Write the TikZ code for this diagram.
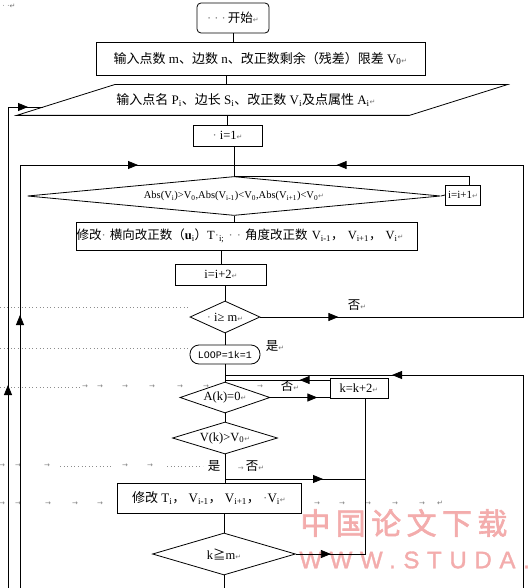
\documentclass[tikz,border=0pt]{standalone}
\usepackage{fontspec}
\setmainfont{Liberation Serif}
\newfontfamily\cjk{Noto Sans CJK SC}
\newfontfamily\cjkwm{Noto Sans CJK SC}[LetterSpace=18,FakeBold=2]
\newfontfamily\wmfont{Liberation Sans}[LetterSpace=32,FakeBold=1.5]
\newfontfamily\dv{DejaVu Sans}
\newfontfamily\mono{Liberation Mono}
\usetikzlibrary{shapes.geometric,arrows.meta,decorations.markings}
\definecolor{wmcol}{RGB}{243,172,172}
\newcommand\zh[1]{{\cjk #1}}
\newcommand\rmk{{\dv\fontsize{7}{7}\selectfont\color{black!55}↵}}
\newcommand\gd[1]{\textcolor{black!55}{#1}}
\newcommand\sbs[1]{\textsubscript{#1}}
\begin{document}
\begin{tikzpicture}[x=1pt,y=-1pt,line width=0.8pt,
  font=\fontsize{12.5}{14}\selectfont,
  box/.style={draw,rectangle,inner sep=1pt,align=center},
  dia/.style={draw,diamond,inner sep=0pt},
  lbl/.style={inner sep=0pt},
  tabm/.style={inner sep=0pt,font=\dv\fontsize{7}{7}\selectfont,text=black!50},
  ah/.style={postaction={decorate,decoration={markings,mark=at position #1 with {\arrow{Triangle[length=10pt,width=8pt]}}}}},
  guide/.style={black!45,line width=0.6pt,dash pattern=on 0.6pt off 3pt}]
\useasboundingbox (0,0) rectangle (530,588);
\clip (0,0) rectangle (530,588);
% watermark
\node[anchor=west,text=wmcol,inner sep=0pt] (wm1) at (300,523) {\cjkwm\fontsize{30}{30}\selectfont 中国论文下载};
\node[anchor=west,text=wmcol,inner sep=0pt] (wm2) at (299,560) {\wmfont\fontsize{24}{24}\selectfont WWW.STUDA.};
% formatting marks
\node[lbl,font=\fontsize{8}{8}\selectfont] (tl) at (9,6) {\gd{· ·}\rmk};
\draw[guide] (0,307) -- (190,307);
\draw[guide] (0,348) -- (190,348);
\draw[guide] (0,387) -- (80,387);
\draw[guide] (60,466) -- (113,466);
\draw[guide] (167,466) -- (203,466);
\foreach \x in {85,100,125,152,180,206,260} \node[tabm] (ta\x) at (\x,387) {→};
\foreach \x in {2,18,47,125,150} \node[tabm] (tb\x) at (\x,466) {→};
\foreach \x in {2,18,48,75,100,317,342,368,395,422} \node[tabm] (tc\x) at (\x,504) {→};
\node[lbl] (tcr) at (440,503) {\rmk};
% nodes
\node[box,rounded corners=4pt,minimum width=72pt,minimum height=30pt] (start) at (233,18) {\gd{· · ·}\,\zh{开始}\rmk};
\node[box,minimum width=329pt,minimum height=33pt,font=\fontsize{13}{15}\selectfont] (in1) at (260.5,58.5) {\zh{输入点数} m\zh{、边数} n\zh{、改正数剩余（残差）限差} V\sbs{0}\rmk};
\node[rectangle,inner sep=0pt,minimum width=392pt,minimum height=30pt] (in2) at (262,100) {};
\node[lbl,font=\fontsize{13}{15}\selectfont] (in2t) at (246,100) {\zh{输入点名} P\sbs{i}\zh{、边长} S\sbs{i}\zh{、改正数} V\sbs{i}\zh{及点属性} A\sbs{i}\rmk};
\draw ([xshift=49pt]in2.north west) -- ([xshift=49pt]in2.north east) -- ([xshift=-49pt]in2.south east) -- ([xshift=-49pt]in2.south west) -- cycle;
\node[box,minimum width=69pt,minimum height=21pt] (i1) at (227.5,135.5) {\gd{·} i=1\rmk};
\node[dia,shape aspect=10,minimum width=413pt,minimum height=39pt] (d1) at (234,196) {\fontsize{10.5}{12}\selectfont Abs(V\sbs{i})>V\sbs{0},Abs(V\sbs{i-1})<V\sbs{0},Abs(V\sbs{i+1})<V\sbs{0}\rmk};
\node[box,inner sep=0pt,minimum width=35pt,minimum height=20pt,font=\fontsize{11}{12}\selectfont] (iplus1) at (463,195) {i=i+1\rmk};
\node[box,inner sep=0.5pt,text width=340pt,align=left,minimum height=28pt,font=\fontsize{12.5}{14}\selectfont] (mod1) at (246.5,236) {\zh{修改}\gd{·} \zh{横向改正数（}{\bfseries u}\sbs{i}\zh{）}T\gd{·}\sbs{i;} \gd{· ·} \zh{角度改正数} V\sbs{i-1}\zh{，} V\sbs{i+1}\zh{，} V\sbs{i}\rmk};
\node[box,minimum width=91pt,minimum height=21pt] (i2) at (221,274.5) {i=i+2\rmk};
\node[dia,shape aspect=2,minimum width=70pt,minimum height=32pt] (d2) at (225,317) {\gd{·} i≥ m\rmk};
\node[box,rounded corners=9pt,minimum width=70pt,minimum height=19pt] (loop) at (225,354.5) {\mono\fontsize{10}{12}\selectfont LOOP=1k=1};
\node[dia,shape aspect=3,minimum width=90pt,minimum height=31pt] (d3) at (225,397.5) {A(k)=0\rmk};
\node[box,minimum width=58pt,minimum height=20pt] (kk2) at (359,388.5) {k=k+2\rmk};
\node[dia,shape aspect=3,minimum width=105pt,minimum height=32pt] (d4) at (225,438) {V(k)>V\sbs{0}\rmk};
\node[box,minimum width=184pt,minimum height=30pt,font=\fontsize{13}{15}\selectfont] (mod2) at (209,498) {\zh{修改} T\sbs{i}\zh{，} V\sbs{i-1}\zh{，} V\sbs{i+1}\zh{，} \gd{·}V\sbs{i}\rmk};
\node[dia,shape aspect=3,minimum width=143pt,minimum height=42pt] (d5) at (224,554) {k\zh{≧}m\rmk};
% labels
\node[lbl] (no1) at (357,305) {\zh{否}\rmk};
\node[lbl] (yes1) at (275,346) {\zh{是}\rmk};
\node[lbl] (no2) at (290,386) {\zh{否}\rmk};
\node[lbl] (yes2) at (214,466) {\zh{是}};
\node[lbl] (no3) at (251,466) {{\dv\fontsize{7}{7}\selectfont\color{black!50}→}\,\zh{否}\rmk};
% coordinates
\coordinate (j1) at (234,165);
\coordinate (rc) at (523,165);
\coordinate (j2) at (225,375);
\coordinate (brr) at (523,588);
\coordinate (j3) at (225,479);
\coordinate (kkb) at ([xshift=6pt]kk2.south);
\coordinate (bl1) at (20,588);
\coordinate (bl2) at (8,588);
\coordinate (in2l) at (43,107);
\coordinate (bot) at (224,588);
% connectors
\draw (start.south) -- (start.south |- in1.north);
\draw ([xshift=-34.5pt]in1.south) -- ([xshift=-34.5pt]in1.south |- in2.north);
\draw (i1.north |- in2.south) -- (i1.north);
\draw (d1.north |- i1.south) -- (d1.north);
\draw ([xshift=6pt]iplus1.north) |- (d1.north);
\draw (d1.east) -- (iplus1.west);
\draw (d1.south) -- (d1.south |- mod1.north);
\draw (i2.north |- mod1.south) -- (i2.north);
\draw (d2.north |- i2.south) -- (d2.north);
\draw (d2.south) -- (loop.north);
\draw (loop.south) -- (d3.north);
\draw (d3.south) -- (d4.north);
\draw (d4.south) -- (d4.south |- mod2.north);
\draw (d5.north |- mod2.south) -- (d5.north);
\draw (d5.south) -- (bot);
\draw[ah=78pt,ah=601pt] (d2.east) -| (rc) -- (j1);
\draw[ah=273pt,ah=541pt] (bl1) |- (j1);
\draw[ah=203pt,ah=501pt] (bl2) |- (in2l);
\draw[ah=344pt] (brr) |- (j2);
\draw[ah=30pt] ([yshift=8.5pt]kk2.west) -- ([yshift=8.5pt]kk2.west -| d3.north);
\draw[ah=47pt] (d3.east) -- (d3.east -| kk2.west);
\draw[ah=98pt] (j3) -- (j3 -| kkb);
\draw[ah=35pt] (d5.east) -| (kkb);
\end{tikzpicture}
\end{document}
